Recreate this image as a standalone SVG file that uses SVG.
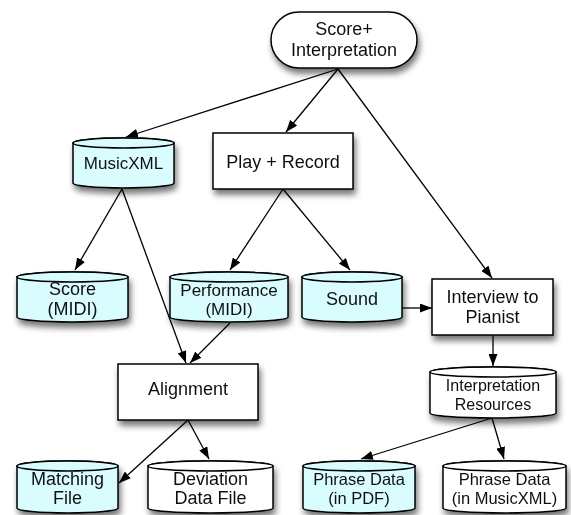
<svg xmlns="http://www.w3.org/2000/svg" width="571" height="515" viewBox="0 0 571 515">
<defs>
<filter id="sh" x="-20%" y="-20%" width="150%" height="170%">
<feGaussianBlur in="SourceAlpha" stdDeviation="3"/>
<feOffset dx="2" dy="5" result="b"/>
<feComponentTransfer><feFuncA type="linear" slope="0.55"/></feComponentTransfer>
<feMerge><feMergeNode/><feMergeNode in="SourceGraphic"/></feMerge>
</filter>
<marker id="ah" viewBox="0 0 12 9" refX="12" refY="4.5" markerWidth="12" markerHeight="9" markerUnits="userSpaceOnUse" orient="auto">
<path d="M0,0 L12,4.5 L0,9 Z" fill="#000"/>
</marker>
</defs>
<style>
.n{stroke:#000;stroke-width:1.5}
.c{fill:#d9fcfe}
.w{fill:#fff}
.t{font-family:"Liberation Sans",Arial,sans-serif;font-size:18px;fill:#111;text-anchor:middle}
.t.s{font-size:17px}
.t.p{font-size:16.5px}
.t.r{font-size:16px}
.e{stroke:#000;stroke-width:1.3;fill:none;marker-end:url(#ah)}
</style>
<rect width="571" height="515" fill="#fff"/>
<g id="connectors">
<path class="e" d="M338,69 L126,137"/>
<path class="e" d="M338,69 L286,132"/>
<path class="e" d="M338,69 L492,278"/>
<path class="e" d="M122,189 L75,270"/>
<path class="e" d="M122,189 L186,363"/>
<path class="e" d="M283,189 L230,270"/>
<path class="e" d="M283,189 L350,270"/>
<path class="e" d="M230,323 L190,363"/>
<path class="e" d="M402,308 L432,308"/>
<path class="e" d="M493,335 L493,366"/>
<path class="e" d="M188,420 L119,483"/>
<path class="e" d="M188,420 L209,459"/>
<path class="e" d="M492,418 L361,459"/>
<path class="e" d="M492,418 L504,459"/>
</g>
<g id="score-interpretation" filter="url(#sh)">
<rect class="n w" x="271" y="12" width="146" height="56" rx="28"/>
<text class="t" x="344" y="35">Score+</text>
<text class="t" x="344" y="56">Interpretation</text>
</g>
<g id="musicxml" filter="url(#sh)">
<path class="n c" d="M73,143 L73,183 A50.5,5 0 0 0 174,183 L174,143 A50.5,5 0 0 0 73,143 Z"/>
<ellipse class="n c" cx="123.5" cy="143" rx="50.5" ry="5"/>
<text class="t s" x="123.5" y="169">MusicXML</text>
</g>
<g id="play-record" filter="url(#sh)">
<rect class="n w" x="213" y="133" width="140" height="56"/>
<text class="t" x="283" y="168">Play + Record</text>
</g>
<g id="score-midi" filter="url(#sh)">
<path class="n c" d="M17,277 L17,317 A55.5,5 0 0 0 128,317 L128,277 A55.5,5 0 0 0 17,277 Z"/>
<ellipse class="n c" cx="72.5" cy="277" rx="55.5" ry="5"/>
<text class="t" x="72.5" y="295">Score</text>
<text class="t" x="72.5" y="315">(MIDI)</text>
</g>
<g id="performance-midi" filter="url(#sh)">
<path class="n c" d="M170,277 L170,317 A59,5 0 0 0 288,317 L288,277 A59,5 0 0 0 170,277 Z"/>
<ellipse class="n c" cx="229" cy="277" rx="59" ry="5"/>
<text class="t s" x="229" y="296">Performance</text>
<text class="t s" x="229" y="315">(MIDI)</text>
</g>
<g id="sound" filter="url(#sh)">
<path class="n c" d="M302,277 L302,317 A50,5 0 0 0 402,317 L402,277 A50,5 0 0 0 302,277 Z"/>
<ellipse class="n c" cx="352" cy="277" rx="50" ry="5"/>
<text class="t" x="352" y="305">Sound</text>
</g>
<g id="interview" filter="url(#sh)">
<rect class="n w" x="432" y="279" width="121" height="56"/>
<text class="t" x="492.5" y="303">Interview to</text>
<text class="t" x="492.5" y="323">Pianist</text>
</g>
<g id="alignment" filter="url(#sh)">
<rect class="n w" x="118" y="364" width="140" height="56"/>
<text class="t" x="188" y="395">Alignment</text>
</g>
<g id="interpretation-resources" filter="url(#sh)">
<path class="n w" d="M430,372 L430,413 A63,5 0 0 0 556,413 L556,372 A63,5 0 0 0 430,372 Z"/>
<ellipse class="n w" cx="493" cy="372" rx="63" ry="5"/>
<text class="t r" x="493" y="391">Interpretation</text>
<text class="t r" x="493" y="410">Resources</text>
</g>
<g id="matching-file" filter="url(#sh)">
<path class="n c" d="M17,466 L17,508 A50.5,5 0 0 0 118,508 L118,466 A50.5,5 0 0 0 17,466 Z"/>
<ellipse class="n c" cx="67.5" cy="466" rx="50.5" ry="5"/>
<text class="t" x="67.5" y="485">Matching</text>
<text class="t" x="67.5" y="504">File</text>
</g>
<g id="deviation-data-file" filter="url(#sh)">
<path class="n w" d="M148,466 L148,508 A62.5,5 0 0 0 273,508 L273,466 A62.5,5 0 0 0 148,466 Z"/>
<ellipse class="n w" cx="210.5" cy="466" rx="62.5" ry="5"/>
<text class="t" x="210.5" y="485">Deviation</text>
<text class="t" x="210.5" y="504">Data File</text>
</g>
<g id="phrase-pdf" filter="url(#sh)">
<path class="n c" d="M303,466 L303,508 A56,5 0 0 0 415,508 L415,466 A56,5 0 0 0 303,466 Z"/>
<ellipse class="n c" cx="359" cy="466" rx="56" ry="5"/>
<text class="t p" x="359" y="485">Phrase Data</text>
<text class="t p" x="359" y="504">(in PDF)</text>
</g>
<g id="phrase-musicxml" filter="url(#sh)">
<path class="n w" d="M443,466 L443,508 A61.5,5 0 0 0 566,508 L566,466 A61.5,5 0 0 0 443,466 Z"/>
<ellipse class="n w" cx="504.5" cy="466" rx="61.5" ry="5"/>
<text class="t p" x="504.5" y="485">Phrase Data</text>
<text class="t p" x="504.5" y="504">(in MusicXML)</text>
</g>
</svg>
